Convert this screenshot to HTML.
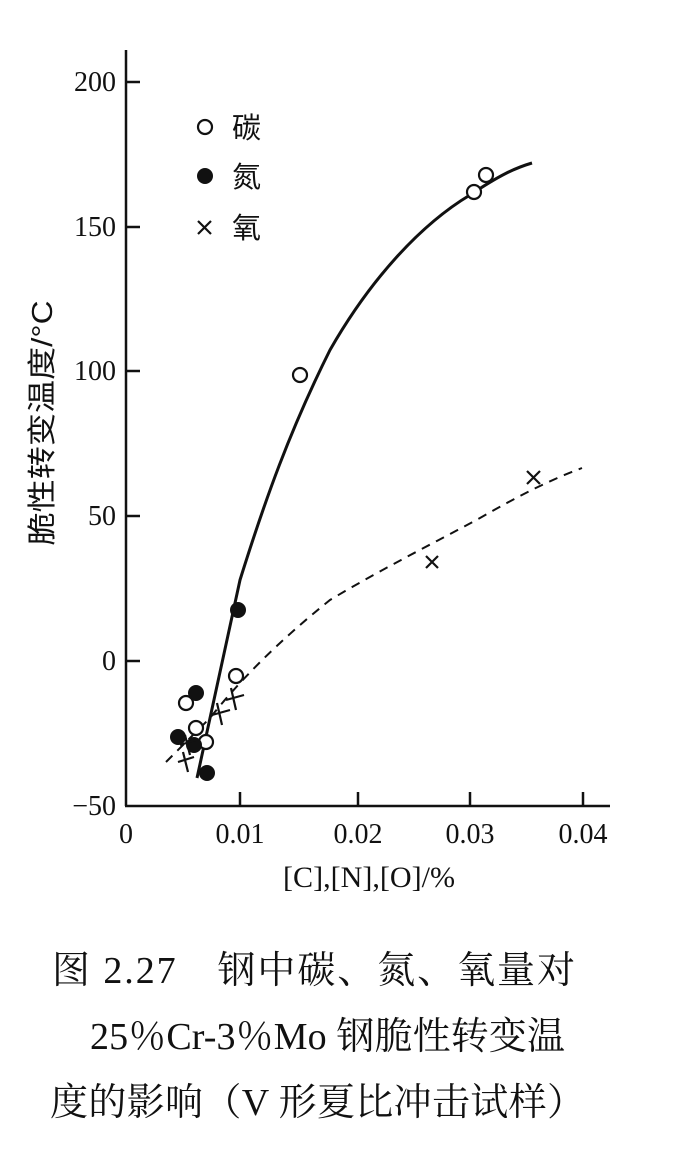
<!DOCTYPE html>
<html><head><meta charset="utf-8"><style>
body{margin:0;background:#fff;width:700px;height:1157px;overflow:hidden}
</style></head><body>
<svg width="700" height="1157" xmlns="http://www.w3.org/2000/svg" style="position:absolute;left:0;top:0">
<g stroke="#111" stroke-width="2.5" fill="none">
<line x1="126" y1="50" x2="126" y2="806"/>
<line x1="125" y1="806" x2="610" y2="806"/>
<line x1="126" y1="82" x2="140" y2="82"/>
<line x1="126" y1="227" x2="140" y2="227"/>
<line x1="126" y1="371" x2="140" y2="371"/>
<line x1="126" y1="516" x2="140" y2="516"/>
<line x1="126" y1="661" x2="140" y2="661"/>
<line x1="240" y1="806" x2="240" y2="792"/>
<line x1="358" y1="806" x2="358" y2="792"/>
<line x1="470" y1="806" x2="470" y2="792"/>
<line x1="583" y1="806" x2="583" y2="792"/>
<path d="M197,778 L240,580 C265,500 290,430 330,350 C370,280 420,225 470,195 C500,175 515,168 532,163" stroke-width="3"/>
<path d="M166,762 L210,718 C240,680 280,640 330,600 C380,570 430,545 480,518 C520,495 550,480 582,468" stroke-dasharray="9,7" stroke-width="2"/>
</g>
<g font-family="Liberation Serif, serif" font-size="28" fill="#111">
<text x="116" y="91" text-anchor="end">200</text>
<text x="116" y="236" text-anchor="end">150</text>
<text x="116" y="380" text-anchor="end">100</text>
<text x="116" y="525" text-anchor="end">50</text>
<text x="116" y="670" text-anchor="end">0</text>
<text x="116" y="815" text-anchor="end">−50</text>
<text x="126" y="843" text-anchor="middle">0</text>
<text x="240" y="843" text-anchor="middle">0.01</text>
<text x="358" y="843" text-anchor="middle">0.02</text>
<text x="470" y="843" text-anchor="middle">0.03</text>
<text x="583" y="843" text-anchor="middle">0.04</text>
<text x="369" y="887" text-anchor="middle" font-size="30" textLength="172" lengthAdjust="spacingAndGlyphs">[C],[N],[O]/%</text>
</g>
<text transform="translate(52,423) rotate(-90)" text-anchor="middle" font-family="Liberation Sans, Noto Sans CJK SC, sans-serif" font-size="29" fill="#111" textLength="245" lengthAdjust="spacingAndGlyphs">脆性转变温度/°C</text>
<g font-family="Liberation Sans, Noto Sans CJK SC, sans-serif" font-size="29" fill="#111">
<text x="232" y="138">碳</text><text x="232" y="187">氮</text><text x="232" y="238">氧</text>
</g>
<g stroke="#111" stroke-width="2.2" fill="#fff">
<circle cx="205" cy="127" r="7"/>
<circle cx="186" cy="703" r="7"/><circle cx="196" cy="728" r="7"/><circle cx="206" cy="742" r="7"/>
<circle cx="236" cy="676" r="7"/><circle cx="300" cy="375" r="7"/><circle cx="474" cy="192" r="7"/><circle cx="486" cy="175" r="7"/>
</g>
<g fill="#111">
<circle cx="205" cy="176" r="8"/>
<circle cx="196" cy="693" r="8"/><circle cx="178" cy="737" r="8"/><circle cx="194" cy="745" r="8"/>
<circle cx="207" cy="773" r="8"/><circle cx="238" cy="610" r="8"/>
</g>
<g stroke="#111" stroke-width="2.2">
<path d="M198,221 l13,13 M211,221 l-13,13"/>
<path d="M426,556 l12,12 M438,556 l-12,12"/>
<path d="M527,471 l13,13 M540,471 l-13,13"/>
<path d="M178,762 l16,-5 M183,752 l5,20"/>
<path d="M180,745 l16,-5 M185,735 l5,20"/>
<path d="M212,715 l18,-5 M217,703 l5,22"/>
<path d="M226,700 l18,-5 M231,688 l5,22"/>
</g>
<g font-family="Liberation Serif, Noto Serif CJK SC, serif" font-size="38" fill="#111" lengthAdjust="spacingAndGlyphs">
<text x="52" y="983" textLength="523">图 2.27　钢中碳、氮、氧量对</text>
<text x="90" y="1049" textLength="475">25％Cr-3％Mo 钢脆性转变温</text>
<text x="50" y="1115" textLength="535">度的影响（V 形夏比冲击试样）</text>
</g>
</svg>
</body></html>
